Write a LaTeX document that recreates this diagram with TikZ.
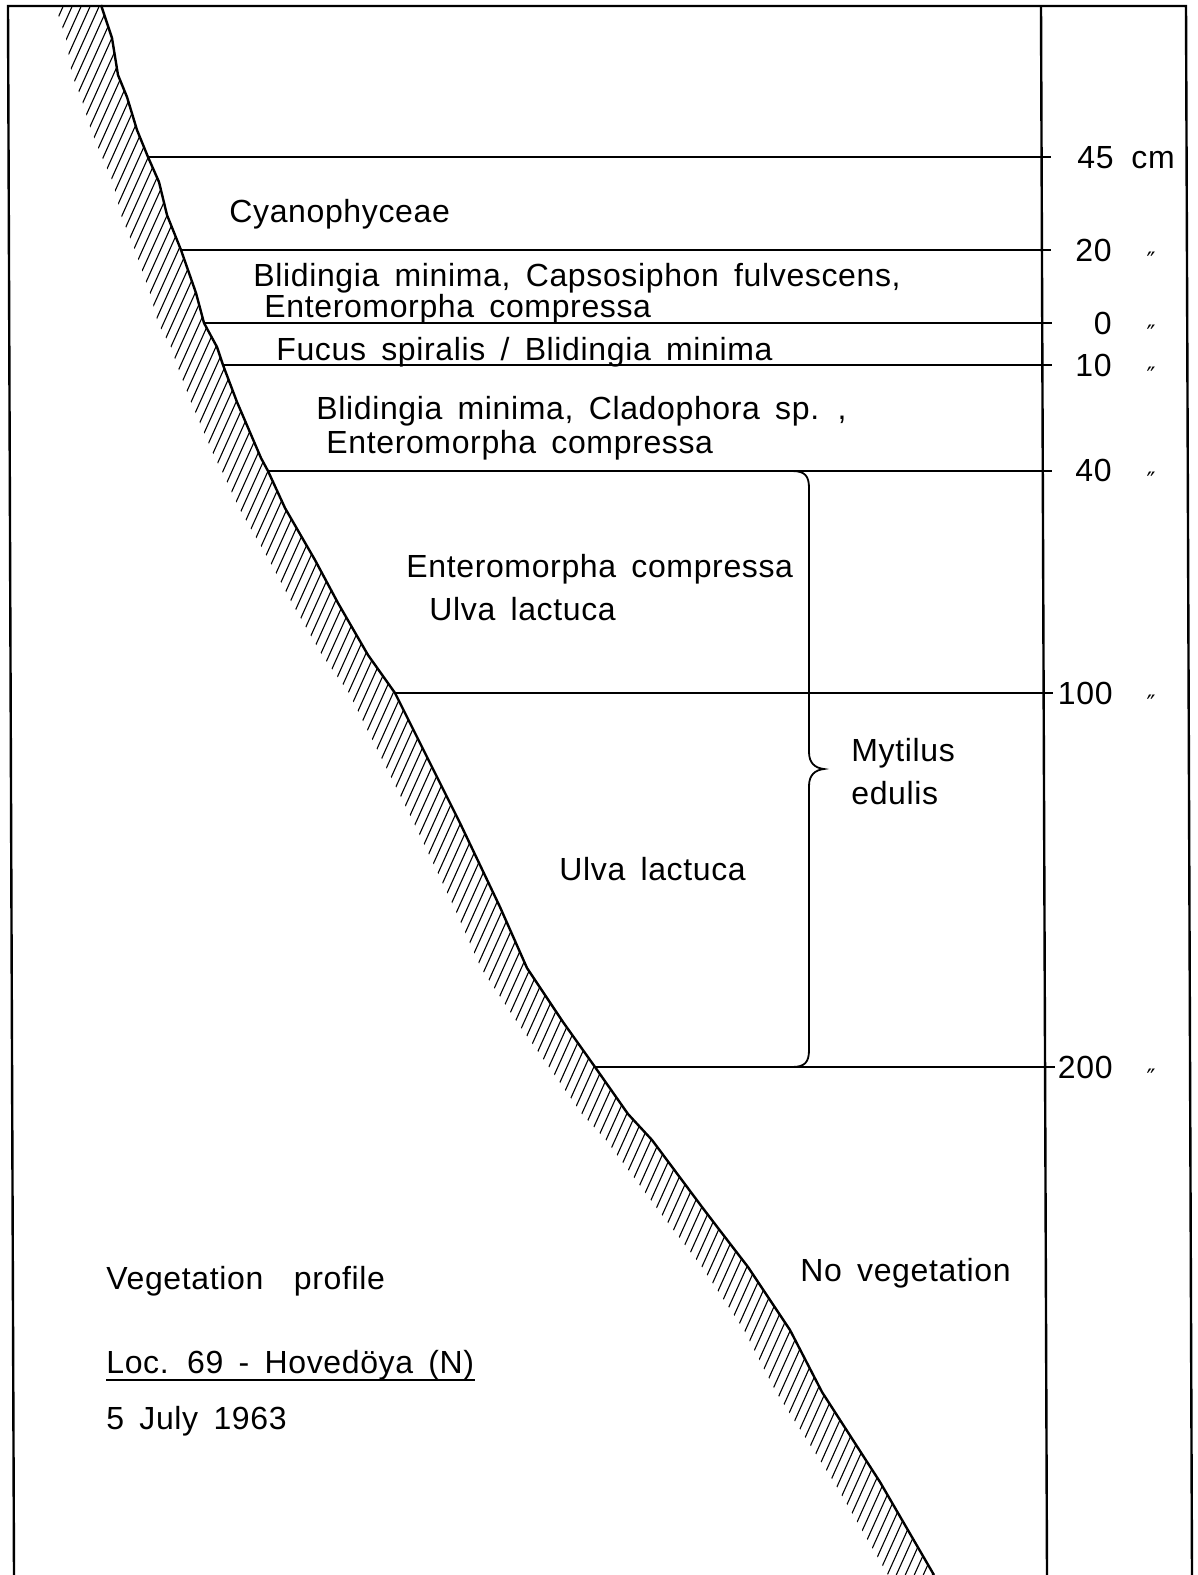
\documentclass[tikz,border=0pt]{standalone}
\usepackage{fontspec}
\setmainfont[LetterSpace=2,WordSpace=1.6]{Liberation Sans}
\newfontfamily\dvfont{DejaVu Sans}
\begin{document}
\begin{tikzpicture}[x=0.5pt,y=-0.5pt,
  lbl/.style={anchor=base west,inner sep=0pt,font=\fontsize{16pt}{19pt}\selectfont},
  num/.style={anchor=base east,inner sep=0pt,font=\fontsize{16pt}{19pt}\selectfont},
  ditto/.style={anchor=base,inner sep=0pt,font=\dvfont\fontsize{12pt}{14pt}\selectfont},
  frame/.style={line width=1.2pt},
  level/.style={line width=0.9pt},
  shoreline/.style={line width=1.2pt,line join=round},
  hatch/.style={line width=0.55pt}]
\useasboundingbox (0,0) rectangle (1198,1575);
\fill[white] (0,0) rectangle (1198,1575);
\def\shore{(101,5) -- (112,38) -- (118,75) -- (127,97) -- (137,130) -- (148,157) -- (159,182) -- (167,215) -- (181,250) -- (196,293) -- (204,323) -- (217,347) -- (223,365) -- (237,402) -- (261,458) -- (268,471) -- (285,508) -- (315,560) -- (338,603) -- (368,655) -- (395,693) -- (420,743) -- (460,823) -- (500,907) -- (527,968) -- (563,1022) -- (595,1067) -- (628,1114) -- (652,1140) -- (702,1207) -- (718,1228) -- (748,1267) -- (790,1330) -- (822,1392) -- (880,1482) -- (934,1575)}
% hatching
\begin{scope}
  \clip (0,6) -- \shore -- (0,1575) -- cycle;
  \begin{scope}[xshift=-23pt]
    \clip (1400,6) -- \shore -- (1400,1575) -- cycle;
    \foreach \c in {40,49,...,1800} \draw[hatch] (\c,0) -- ++(-720,1600);
  \end{scope}
\end{scope}
\draw[shoreline] \shore;
% frame
\coordinate (tl) at (8,6);
\coordinate (tr) at (1186,6);
\coordinate (bl) at (14,1575);
\coordinate (br) at (1192,1575);
\coordinate (ax1) at (1041,6);
\coordinate (ax2) at (1047,1575);
\draw[frame] (bl) -- (tl) -- (tr) -- (br);
\draw[frame] (ax1) -- (ax2);
% levels
\coordinate (s45) at (148,157);   \coordinate (t45) at (1051,157);
\coordinate (s20) at (181,250);   \coordinate (t20) at (1051,250);
\coordinate (s0) at (204,323);    \coordinate (t0) at (1052,323);
\coordinate (s10) at (223,365);   \coordinate (t10) at (1052,365);
\coordinate (s40) at (268,471);   \coordinate (t40) at (1052,471);
\coordinate (s100) at (395,693);  \coordinate (t100) at (1053,693);
\coordinate (s200) at (595,1067); \coordinate (t200) at (1055,1067);
\foreach \a in {45,20,0,10,40,100,200} \draw[level] (s\a) -- (t\a);
% brace
\draw[level] (792,471) .. controls (805,471) and (809,476) .. (809,488) -- (809,752)
  .. controls (809,763) and (815,768) .. (824,769)
  .. controls (815,770) and (809,775) .. (809,786) -- (809,1050)
  .. controls (809,1062) and (805,1067) .. (792,1067);
% zone labels
\node[lbl] (cyan) at (229,222) {Cyanophyceae};
\node[lbl] (bc1) at (253,286) {Blidingia minima, Capsosiphon fulvescens,};
\node[lbl] (ec1) at (264,317) {Enteromorpha compressa};
\node[lbl] (fs) at (276,360) {Fucus spiralis / Blidingia minima};
\node[lbl] (bc2) at (316,419) {Blidingia minima, Cladophora sp. ,};
\node[lbl] (ec2) at (326,453) {Enteromorpha compressa};
\node[lbl] (ec3) at (406,577) {Enteromorpha compressa};
\node[lbl] (ul1) at (429,620) {Ulva lactuca};
\node[lbl] (ul2) at (559,880) {Ulva lactuca};
\node[lbl] (myt) at (851,761) {Mytilus};
\node[lbl] (edu) at (851,804) {edulis};
\node[lbl] (nov) at (800,1281) {No vegetation};
\node[lbl] (vp) at (106,1289) {Vegetation\ \ profile};
\node[lbl] (loc) at (106,1373) {Loc. 69 - Hovedöya (N)};
\draw[level] ([yshift=-3.5pt]loc.base west) -- ([yshift=-3.5pt]loc.base east);
\node[lbl] (date) at (106,1429) {5 July 1963};
% scale labels
\node[num] (n45) at (1114,168) {45};
\node[lbl] (cm) at (1131,168) {cm};
\node[num] (n20) at (1112,261) {20};
\node[num] (n0) at (1112,334) {0};
\node[num] (n10) at (1112,376) {10};
\node[num] (n40) at (1112,481) {40};
\node[num] (n100) at (1113,704) {100};
\node[num] (n200) at (1113,1078) {200};
\node[ditto] (d20) at (1151,269) {″};
\node[ditto] (d0) at (1151,342) {″};
\node[ditto] (d10) at (1151,384) {″};
\node[ditto] (d40) at (1151,489) {″};
\node[ditto] (d100) at (1151,712) {″};
\node[ditto] (d200) at (1151,1086) {″};
\end{tikzpicture}
\end{document}
